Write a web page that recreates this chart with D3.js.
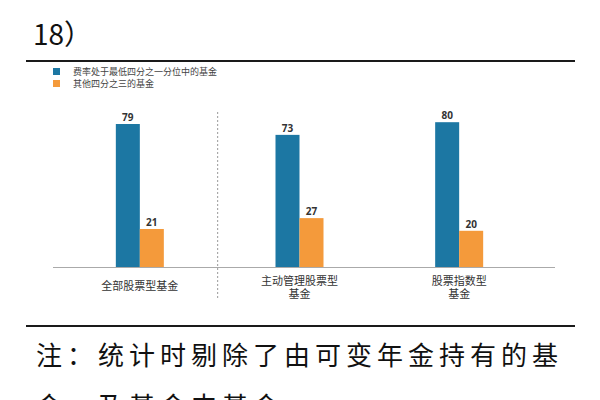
<!DOCTYPE html>
<html><head><meta charset="utf-8">
<script src="https://cdn.jsdelivr.net/npm/d3@7"></script>
<style>body{margin:0;background:#fff}svg{display:block}</style>
</head><body>
<script>
const categories = [["全部股票型基金"], ["主动管理股票型", "基金"], ["股票指数型", "基金"]];
const seriesNames = ["费率处于最低四分之一分位中的基金", "其他四分之三的基金"];
const lowestQuartile = [79, 73, 80];
const otherQuartiles = [21, 27, 20];
const seriesValues = [lowestQuartile, otherQuartiles];
const colors = ["#1c77a3", "#f49a3b"];
const titleText = "18）";
const noteLines = ["注：统计时剔除了由可变年金持有的基", "金，及基金中基金"];

const W = 600, H = 400;
const svg = d3.select("body").append("svg").attr("width", W).attr("height", H);
const font = "'Noto Sans CJK SC','Noto Sans',sans-serif";

svg.append("text").attr("x", 33).attr("y", 45).attr("font-family", font)
  .attr("font-size", 28).attr("fill", "#111").text(titleText);

svg.append("line").attr("x1", 26).attr("x2", 575).attr("y1", 61).attr("y2", 61)
  .attr("stroke", "#1a1a1a").attr("stroke-width", 2);
svg.append("line").attr("x1", 26).attr("x2", 575).attr("y1", 326).attr("y2", 326)
  .attr("stroke", "#1a1a1a").attr("stroke-width", 2);

// legend
const leg = svg.append("g");
seriesNames.forEach((s, i) => {
  leg.append("rect").attr("x", 53).attr("y", 68 + i * 12).attr("width", 7).attr("height", 7).attr("fill", colors[i]);
  leg.append("text").attr("x", 73).attr("y", 75 + i * 12).attr("font-family", font)
    .attr("font-size", 9).attr("fill", "#444").text(s);
});

const idx = d3.range(categories.length);
const x0 = d3.scaleBand().domain(idx).range([60, 539]).padding(0);
const x1 = d3.scaleBand().domain(d3.range(seriesNames.length)).range([0, 48]);
const y = d3.scaleLinear().domain([0, 100]).range([267, 86]);

// separator
svg.append("line").attr("x1", x0(1) - 2).attr("x2", x0(1) - 2).attr("y1", 112).attr("y2", 300)
  .attr("stroke", "#999").attr("stroke-width", 1).attr("stroke-dasharray", "2,2");

const g = svg.append("g");
idx.forEach(ci => {
  const cx = x0(ci) + x0.bandwidth() / 2;
  seriesValues.forEach((vals, si) => {
    const bx = cx - 24 + x1(si);
    g.append("rect").attr("x", bx).attr("y", y(vals[ci])).attr("width", x1.bandwidth())
      .attr("height", y(0) - y(vals[ci])).attr("fill", colors[si]);
    g.append("text").attr("x", bx + x1.bandwidth() / 2).attr("y", y(vals[ci]) - 3)
      .attr("text-anchor", "middle").attr("font-family", "'Open Sans',sans-serif").attr("font-weight", "bold")
      .attr("font-size", 10).attr("fill", "#333").text(vals[ci]);
  });
  const lines = categories[ci];
  const baseY = lines.length === 1 ? 290 : 285;
  lines.forEach((t, li) => {
    g.append("text").attr("x", cx).attr("y", baseY + li * 13).attr("text-anchor", "middle")
      .attr("font-family", font).attr("font-size", 11).attr("fill", "#333").text(t);
  });
});

// axis baseline
svg.append("line").attr("x1", 53).attr("x2", 555).attr("y1", y(0) + 0.5).attr("y2", y(0) + 0.5)
  .attr("stroke", "#aaa").attr("stroke-width", 1);

noteLines.forEach((t, i) => {
  svg.append("text").attr("x", 36).attr("y", 365 + i * 51).attr("font-family", font)
    .attr("font-size", 26).attr("letter-spacing", 5).attr("fill", "#111").text(t);
});
</script>
</body></html>
